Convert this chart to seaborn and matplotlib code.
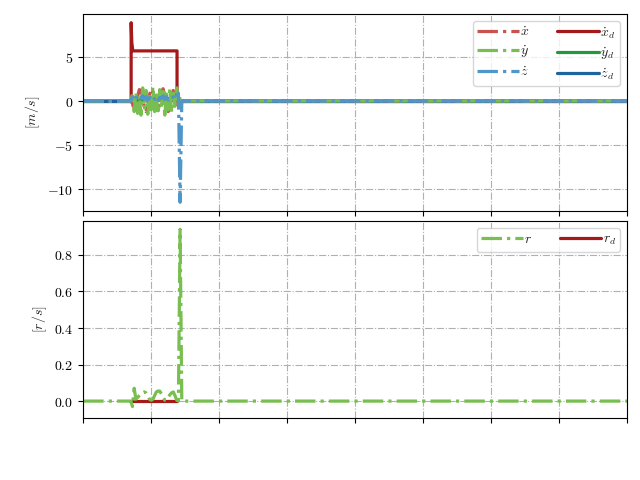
import numpy as np
import pandas as pd
import matplotlib
matplotlib.use("Agg")
import matplotlib.pyplot as plt
import seaborn as sns
from matplotlib.ticker import FuncFormatter

# time samples (flat part + active window + flat part)
t_pre = [0.0, 6.8]
t_act = [7.0, 7.25, 7.5, 7.75, 8.0, 8.25, 8.5, 8.75, 9.0, 9.25, 9.5, 9.75,
         10.0, 10.25, 10.5, 10.75, 11.0, 11.25, 11.5, 11.75, 12.0, 12.25,
         12.5, 12.75, 13.0, 13.25, 13.5, 13.75, 14.0, 14.25, 14.5]
t_post = [15.0, 80.0]

# linear velocities [m/s]
vx = [0.0, -0.3, -1.0, -0.6, 0.5, 1.3, 1.2, 0.3, -0.8, -1.2, -0.5, 0.7,
      1.4, 1.1, 0.0, -1.0, -1.1, -0.2, 1.0, 1.4, 0.6, -0.6, -1.2, -0.5,
      0.7, 1.2, 0.6, -0.4, -0.2, 0.1, 0.0]
vy = [0.0, 0.8, -1.2, 1.0, -1.4, 0.6, -1.6, 1.5, -0.8, 1.2, -1.5, 0.9,
      -1.0, 1.6, -1.2, 0.7, -1.4, 1.3, -0.9, 1.1, -1.6, 0.8, -1.0, 1.5,
      -1.3, 0.9, -0.6, 1.5, -0.4, 0.3, 0.0]
vz = [0.0, 0.5, 0.2, 0.6, 0.1, 0.4, 0.3, 0.6, 0.2, 0.5, 0.1, 0.4,
      0.3, 0.6, 0.2, 0.5, 0.1, 0.4, 0.3, 0.6, 0.2, 0.5, 0.1, 0.4,
      0.3, 0.5, 0.2, 0.4, 0.9, -11.5, 0.0]

t_xd = [0.0, 7.05, 7.05, 7.15, 7.3, 13.8, 13.8, 80.0]
xd = [0.0, 0.0, 8.9, 6.6, 5.7, 5.7, 0.0, 0.0]
t_yzd = [0.0, 7.05, 7.05, 13.8, 13.8, 80.0]
yd = [0.0, 0.0, 0.1, 0.1, 0.0, 0.0]
zd = [0.0, 0.0, 0.4, 0.4, 0.0, 0.0]

# yaw rate [r/s]
r = [0.0, -0.03, 0.07, 0.01, 0.02, 0.03, 0.04, 0.045, 0.05, 0.045, 0.03, 0.01,
     0.005, 0.01, 0.03, 0.05, 0.055, 0.055, 0.04, 0.02, 0.005, 0.005,
     0.02, 0.035, 0.045, 0.05, 0.03, 0.005, 0.0, 0.94, 0.0]
t_rd = [7.0, 13.8]
rd = [0.0, 0.0]

sns.set_style("ticks")
plt.rcParams["mathtext.fontset"] = "cm"

t = t_pre + t_act + t_post
pad = lambda v: [0.0, 0.0] + v + [0.0, 0.0]

fig, (ax1, ax2) = plt.subplots(2, 1, figsize=(6.4, 4.8), sharex=True)
fig.subplots_adjust(left=0.13, right=0.98, top=0.971, bottom=0.129, hspace=0.05)

lw = 2.3
kw = dict(estimator=None, sort=False, linewidth=lw)
sns.lineplot(x=t_xd, y=xd, ax=ax1, color="#a51919", label=r"$\dot{x}_d$", **kw)
sns.lineplot(x=t_yzd, y=yd, ax=ax1, color="#28963c", label=r"$\dot{y}_d$", **kw)
sns.lineplot(x=t_yzd, y=zd, ax=ax1, color="#1e64a0", label=r"$\dot{z}_d$", **kw)
sns.lineplot(x=t, y=pad(vx), ax=ax1, color="#c9524d", linestyle="-.", label=r"$\dot{x}$", **kw)
sns.lineplot(x=t, y=pad(vy), ax=ax1, color="#78be50", linestyle="-.", label=r"$\dot{y}$", **kw)
sns.lineplot(x=t, y=pad(vz), ax=ax1, color="#5096c8", linestyle="-.", label=r"$\dot{z}$", **kw)

leg_kw = dict(ncol=2, loc="upper right", handlelength=3, handletextpad=0.1,
              fontsize=10, borderpad=0.3, labelspacing=0.35)
h, l = ax1.get_legend_handles_labels()
order = [3, 4, 5, 0, 1, 2]
ax1.legend([h[i] for i in order], [l[i] for i in order], **leg_kw)

sns.lineplot(x=t_rd, y=rd, ax=ax2, color="#a51919", label=r"$r_d$", **kw)
sns.lineplot(x=t, y=pad(r), ax=ax2, color="#78be50", linestyle="-.", label=r"$r$", **kw)
h, l = ax2.get_legend_handles_labels()
ax2.legend([h[1], h[0]], [l[1], l[0]], **leg_kw)

ax1.set_ylim(-12.5, 9.9)
ax1.set_yticks([-10, -5, 0, 5])
ax1.yaxis.set_major_formatter(FuncFormatter(lambda v, p: f"${v:g}$"))
ax1.set_ylabel(r"$[m/s]$")

ax2.set_ylim(-0.093, 0.986)
ax2.set_yticks([0.0, 0.2, 0.4, 0.6, 0.8])
ax2.yaxis.set_major_formatter(FuncFormatter(lambda v, p: f"${v:.1f}$"))
ax2.set_ylabel(r"$[r/s]$")

ax2.set_xlim(0, 80)
ax2.set_xticks(np.arange(0, 81, 10))
ax2.set_xticklabels([])
ax2.set_xlabel(" ")

for ax in (ax1, ax2):
    ax.grid(True, linestyle="-.", color="#b0b0b0", linewidth=0.8)
    for s in ax.spines.values():
        s.set_color("black")
    ax.tick_params(colors="black")

fig.savefig("out.png", dpi=100)
